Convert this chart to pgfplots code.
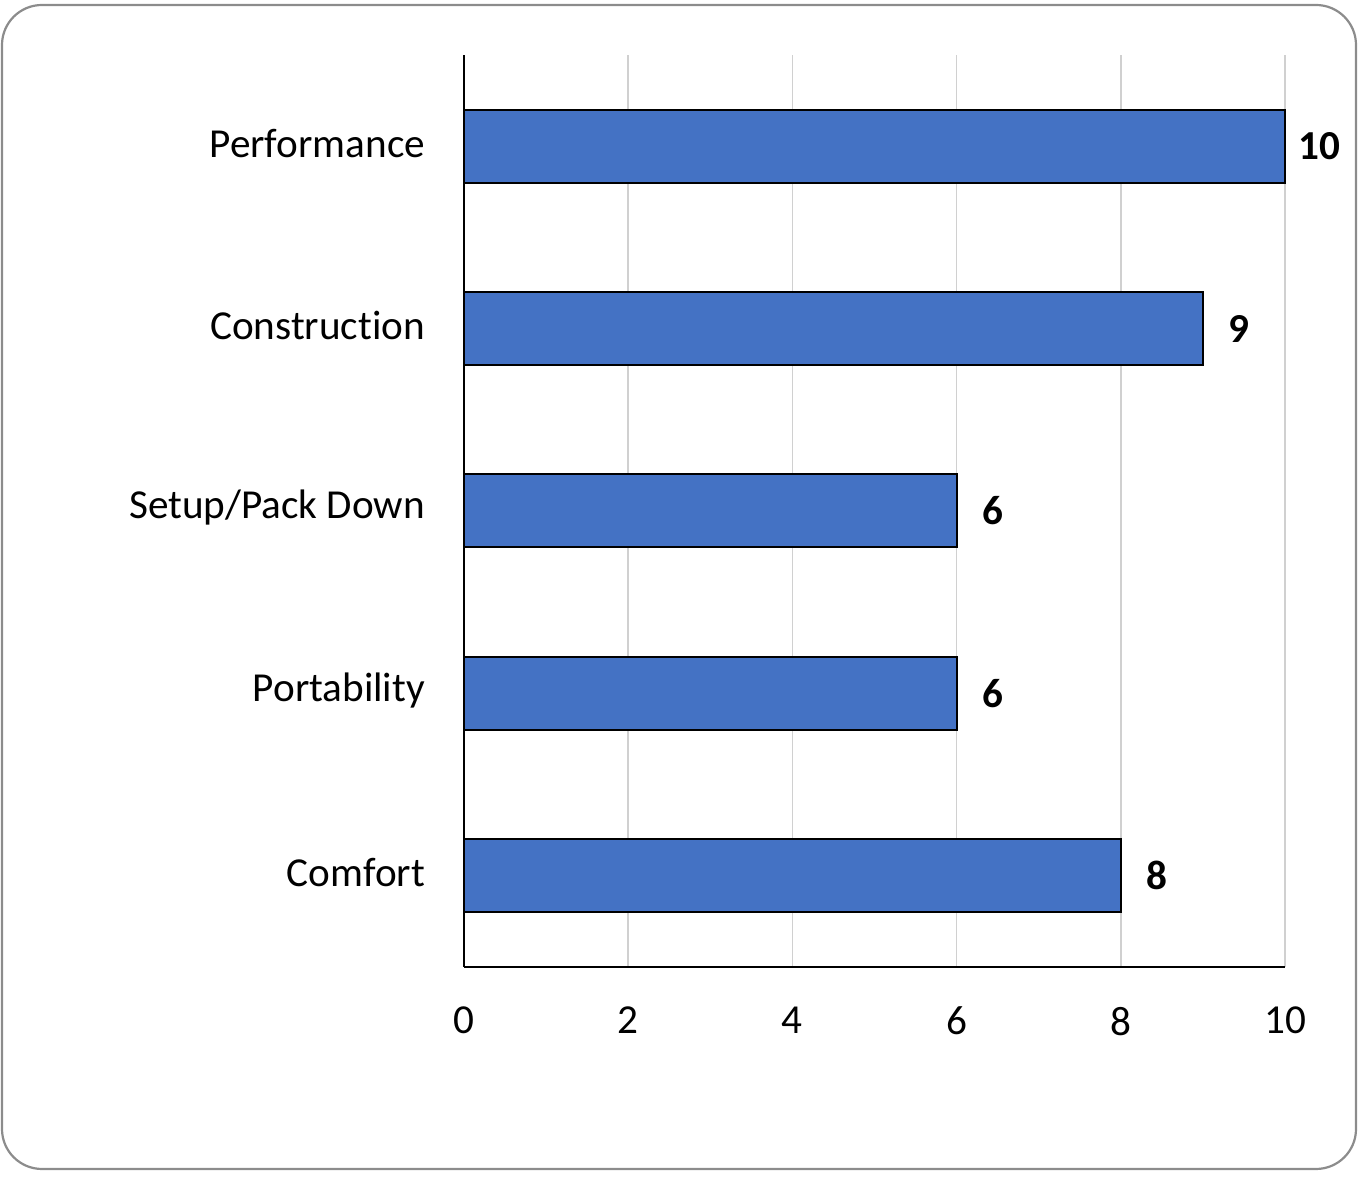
\documentclass[border=0pt]{standalone}
\usepackage{pgfplots}
\pgfplotsset{compat=1.18}
\usepackage{fontspec}
\setmainfont{Carlito}[Ligatures=NoCommon]
\definecolor{barblue}{HTML}{4472C4}
\definecolor{gridgray}{HTML}{D0D0D0}
\definecolor{framegray}{HTML}{8C8C8C}
\begin{document}
\begin{tikzpicture}
% 1 px of the reference = 0.5pt
\useasboundingbox (0,0) rectangle (680.5pt,588.5pt);
\draw[framegray, line width=1.1pt, rounded corners=20pt] (1pt,4pt) rectangle (678pt,586pt);
\begin{axis}[
  at={(232pt,105pt)}, anchor=south west,
  scale only axis,
  width=410.5pt, height=456pt,
  xbar, bar width=36.5pt,
  xmin=0, xmax=10, ymin=-0.5, ymax=4.5,
  xtick={0,2,...,10},
  ytick={0,...,4},
  yticklabels={Comfort,Portability,Setup/Pack Down,Construction,Performance},
  axis x line*=bottom, axis y line*=left,
  axis line style={-, black, line width=0.8pt},
  major tick length=0pt,
  xmajorgrids, grid style={gridgray, line width=0.8pt},
  ticklabel style={font=\fontsize{20.6}{24}\selectfont},
  /pgf/number format/assume math mode=true,
  xticklabel style={yshift=-16.5pt},
  yticklabel style={xshift=-16pt, yshift=1.5pt},
  clip=false,
  visualization depends on={x \as \xv},
  nodes near coords,
  every node near coord/.append style={font=\fontsize{20.6}{24}\bfseries, anchor=west,
    xshift={\xv>9.5 ? 3pt : 9pt}},
]
\addplot[fill=barblue, draw=black, line width=1pt] coordinates {
  (8,0) (6,1) (6,2) (9,3) (10,4)
};
\end{axis}
\end{tikzpicture}
\end{document}
